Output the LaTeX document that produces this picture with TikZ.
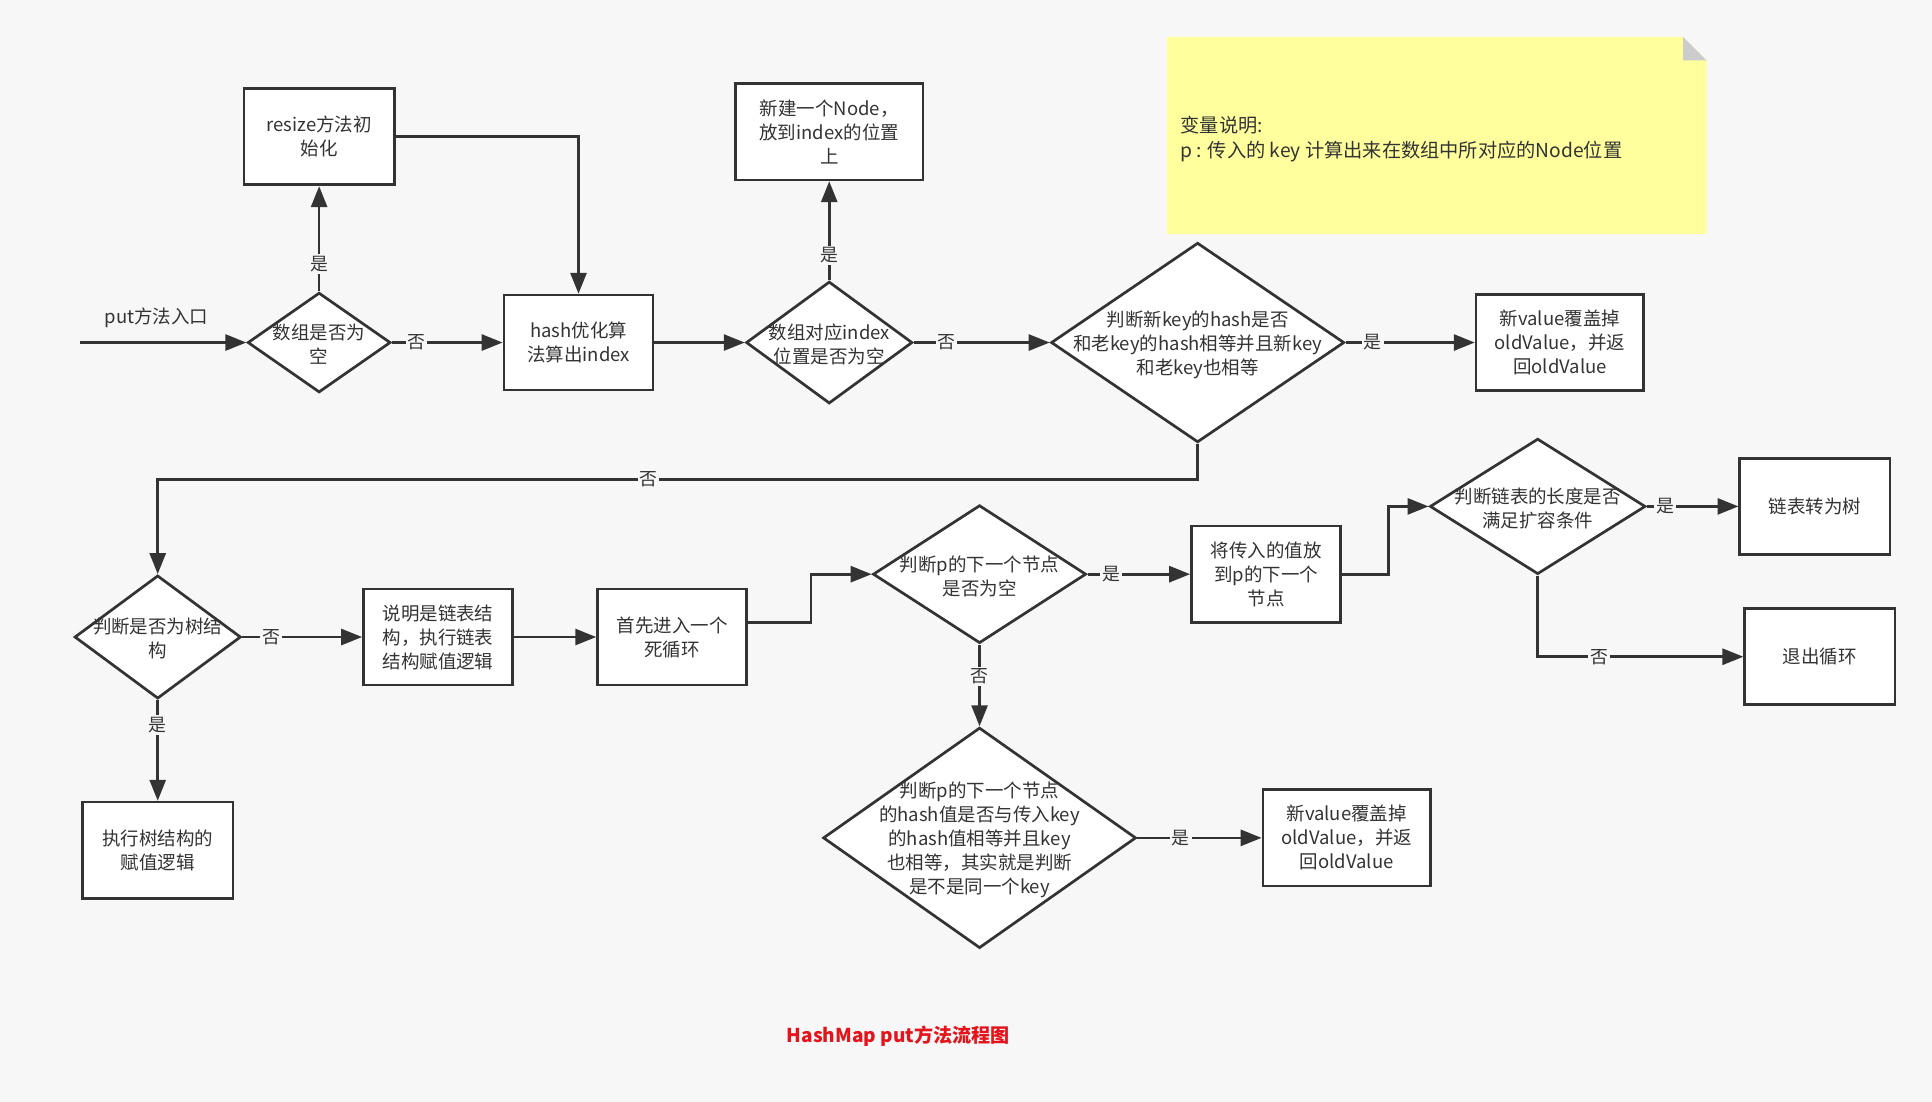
\documentclass[tikz,border=0pt]{standalone}
\usepackage{fontspec}
\setmainfont{Noto Sans CJK SC}
\usetikzlibrary{shapes.geometric,arrows.meta,calc}
\definecolor{bg}{HTML}{F7F7F7}
\definecolor{ink}{HTML}{333333}
\definecolor{notey}{HTML}{FFFF9E}
\definecolor{fold}{HTML}{CCCCCC}
\definecolor{ttl}{HTML}{E3141B}
\begin{document}
\begin{tikzpicture}[x=1pt,y=-1pt,
  every node/.style={font=\fontsize{15}{19.5}\selectfont, text=ink},
  box/.style={draw=ink, line width=2.2pt, fill=white, rectangle, minimum width=122pt, minimum height=78pt, align=center, inner sep=2pt},
  dia/.style={draw=ink, line width=2.2pt, fill=white, diamond, inner sep=0pt},
  arr/.style={draw=ink, line width=2.2pt, -{Triangle[length=17pt,width=13pt]}},
  lbl/.style={fill=bg, inner sep=1.5pt, font=\fontsize{14.5}{16}\selectfont},
  dtext/.style={align=center, yshift=-1.5pt},
]
\fill[bg] (0,0) rectangle (1568,894);
\useasboundingbox (0,0) rectangle (1568,894);

% note
\fill[notey] (947,30) -- (1366,30) -- (1385,49) -- (1385,190) -- (947,190) -- cycle;
\fill[fold] (1366,30) -- (1385,49) -- (1366,49) -- cycle;
\node[anchor=west, align=left, inner sep=0pt, font=\fontsize{15.6}{20}\selectfont] (note) at (958,113) {变量说明:\\p : 传入的 key 计算出来在数组中所对应的Node位置};

% start
\node (start) at (127,258) {put方法入口};
\coordinate (in) at (65,278);

% diamonds
\node[dia, minimum width=116pt, minimum height=81pt, label={[dtext]center:{数组是否为\\空}}] (d1) at (259,278) {};
\node[dia, minimum width=135pt, minimum height=99pt, label={[dtext]center:{数组对应index\\位置是否为空}}] (d2) at (673,278) {};
\node[dia, minimum width=238pt, minimum height=162pt, label={[dtext]center:{判断新key的hash是否\\和老key的hash相等并且新key\\和老key也相等}}] (d3) at (972,278) {};
\node[dia, minimum width=135pt, minimum height=100pt, label={[dtext]center:{判断是否为树结\\构}}] (d4) at (128,517) {};
\node[dia, minimum width=173pt, minimum height=112pt, label={[dtext]center:{判断p的下一个节点\\是否为空}}] (d5) at (795,466) {};
\node[dia, minimum width=175pt, minimum height=110pt, label={[dtext]center:{判断链表的长度是否\\满足扩容条件}}] (d6) at (1248,411) {};
\node[dia, minimum width=254pt, minimum height=179pt, label={[dtext]center:{判断p的下一个节点\\的hash值是否与传入key\\的hash值相等并且key\\也相等，其实就是判断\\是不是同一个key}}] (d7) at (795,680) {};

% boxes
\node[box] (resize) at (259,111) {resize方法初\\始化};
\node[box, minimum width=121pt, minimum height=77pt] (hash) at (469.5,278) {hash优化算\\法算出index};
\node[box, minimum width=152pt] (newnode) at (673,107) {新建一个Node，\\放到index的位置\\上};
\node[box, minimum width=136pt] (r1) at (1266,278) {新value覆盖掉\\oldValue，并返\\回oldValue};
\node[box, minimum width=121pt] (b1) at (355.5,517) {说明是链表结\\构，执行链表\\结构赋值逻辑};
\node[box, minimum width=121pt] (b2) at (545.5,517) {首先进入一个\\死循环};
\node[box] (b3) at (128,690) {执行树结构的\\赋值逻辑};
\node[box, minimum width=121pt] (b4) at (1027.5,466) {将传入的值放\\到p的下一个\\节点};
\node[box] (b5) at (1473,411) {链表转为树};
\node[box] (b6) at (1477,533) {退出循环};
\node[box, minimum width=136pt] (b7) at (1093,680) {新value覆盖掉\\oldValue，并返\\回oldValue};

% title
\node[text=ttl, font=\fontsize{15.5}{18}\selectfont\bfseries] (title) at (729,841) {HashMap put方法流程图};

% connectors
\draw[arr] (in) -- (d1.west);
\draw[arr] (d1.north) -- node[lbl,pos=0.26]{是} (resize.south);
\draw[arr] (resize.east) -| (hash.north);
\draw[arr] (d1.east) -- node[lbl,pos=0.22]{否} (hash.west);
\draw[arr] (hash.east) -- (d2.west);
\draw[arr] (d2.north) -- node[lbl,pos=0.25]{是} (newnode.south);
\draw[arr] (d2.east) -- node[lbl,pos=0.24]{否} (d3.west);
\draw[arr] (d3.east) -- node[lbl,pos=0.21]{是} (r1.west);
\draw[arr] (d3.south) -- ++(0,29) -| node[lbl,pos=0.264]{否} (d4.north);
\draw[arr] (d4.east) -- node[lbl,pos=0.24]{否} (b1.west);
\draw[arr] (b1.east) -- (b2.west);
\draw[arr] (d4.south) -- node[lbl,pos=0.25]{是} (b3.north);
\draw[arr] ($(b2.east)+(0,-12)$) -- ++(51,0) |- (d5.west);
\draw[arr] (d5.east) -- node[lbl,pos=0.23]{是} (b4.west);
\draw[arr] (b4.east) -- ++(38,0) |- (d6.west);
\draw[arr] (d6.east) -- node[lbl,pos=0.2]{是} (b5.west);
\draw[arr] (d6.south) |- node[lbl,pos=0.649]{否} (b6.west);
\draw[arr] (d5.south) -- node[lbl,pos=0.39]{否} (d7.north);
\draw[arr] (d7.east) -- node[lbl,pos=0.35]{是} (b7.west);
\end{tikzpicture}
\end{document}
